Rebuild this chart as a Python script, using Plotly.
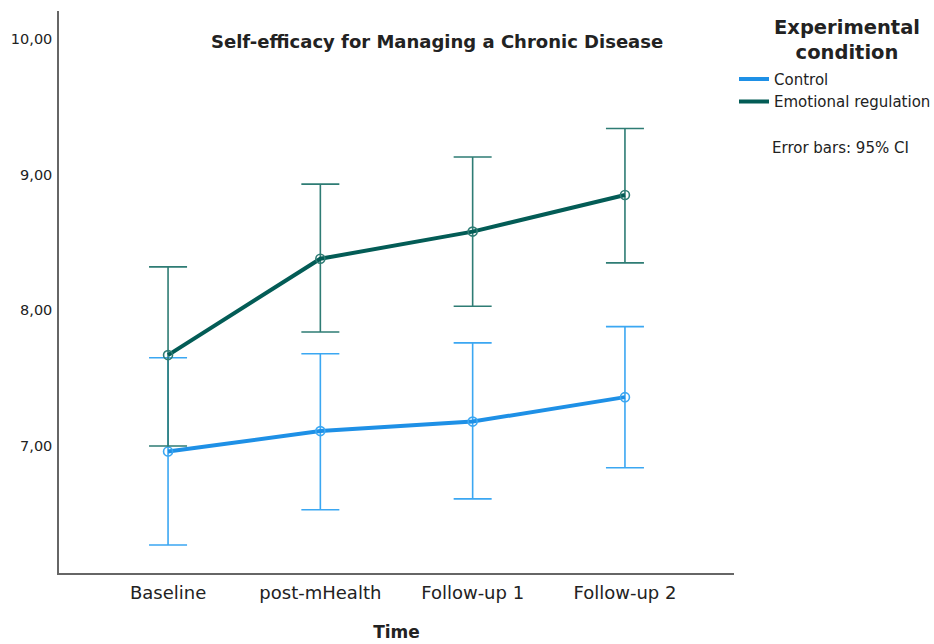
import plotly.graph_objects as go

times = ["Baseline", "post-mHealth", "Follow-up 1", "Follow-up 2"]

control_mean = [6.96, 7.11, 7.18, 7.36]
control_upper = [7.65, 7.68, 7.76, 7.88]
control_lower = [6.27, 6.53, 6.61, 6.84]

emo_mean = [7.67, 8.38, 8.58, 8.85]
emo_upper = [8.32, 8.93, 9.13, 9.34]
emo_lower = [7.00, 7.84, 8.03, 8.35]

y_ticks = [7, 8, 9, 10]

FONT = "DejaVu Sans"

def trace(name, mean, upper, lower, line_color, err_color):
    return go.Scatter(
        x=times, y=mean, name=name, mode="lines+markers", showlegend=False,
        line=dict(color=line_color, width=4),
        marker=dict(symbol="circle-open", size=9, color=err_color, line=dict(width=1.6, color=err_color)),
        error_y=dict(type="data", symmetric=False,
                     array=[u - m for u, m in zip(upper, mean)],
                     arrayminus=[m - l for m, l in zip(mean, lower)],
                     color=err_color, thickness=1.6, width=19),
    )

def legend_entry(name, line_color):
    return go.Scatter(x=[None], y=[None], name=name, mode="lines",
                      line=dict(color=line_color, width=4), showlegend=True)

fig = go.Figure()
fig.add_trace(trace("Control", control_mean, control_upper, control_lower, "#1E90E6", "#3BA7F2"))
fig.add_trace(trace("Emotional regulation", emo_mean, emo_upper, emo_lower, "#035C56", "#2E7C74"))
fig.add_trace(legend_entry("Control", "#1E90E6"))
fig.add_trace(legend_entry("Emotional regulation", "#035C56"))

fig.update_layout(
    width=934, height=644,
    paper_bgcolor="white", plot_bgcolor="white",
    margin=dict(l=59, r=200, t=11, b=71, autoexpand=False),
    separators=",.",
    font=dict(family=FONT, color="#222"),
    showlegend=True,
    legend=dict(x=1.0, xanchor="left", y=0.908, yanchor="top",
                font=dict(size=15, color="#222", family=FONT),
                tracegroupgap=0, itemwidth=30, bgcolor="rgba(0,0,0,0)"),
    xaxis=dict(type="category", range=[-0.716, 3.716], showgrid=False, zeroline=False,
               showline=True, linecolor="#666", linewidth=1.5, ticks="", automargin=False,
               tickfont=dict(size=18, color="#222"), ticklabelstandoff=3,
               title=dict(text="<b>Time</b>", font=dict(size=17, color="#222"), standoff=24)),
    yaxis=dict(range=[6.064, 10.206], tickvals=y_ticks, tickformat=".2f", showgrid=False,
               zeroline=False, showline=True, linecolor="#666", linewidth=1.5, ticks="",
               automargin=False,
               tickfont=dict(size=14.5, color="#222"), ticklabelstandoff=2),
    annotations=[
        dict(text="<b>Self-efficacy for Managing a Chronic Disease</b>", xref="paper", yref="paper",
             x=(437 - 59) / 675, y=(573 - 41) / 562, xanchor="center", yanchor="middle",
             showarrow=False, font=dict(size=18, color="#222")),
        dict(text="<b>Experimental<br>condition</b>", xref="paper", yref="paper",
             x=(847 - 59) / 675, y=(573 - 40) / 562, xanchor="center", yanchor="middle",
             showarrow=False, font=dict(size=19.5, color="#222")),
        dict(text="Error bars: 95% CI", xref="paper", yref="paper",
             x=(840 - 59) / 675, y=(573 - 148) / 562, xanchor="center", yanchor="middle",
             showarrow=False, font=dict(size=15, color="#222")),
    ],
)

fig.write_html("out.html", config={"displayModeBar": False},
               post_script="document.body.style.margin='0';")
